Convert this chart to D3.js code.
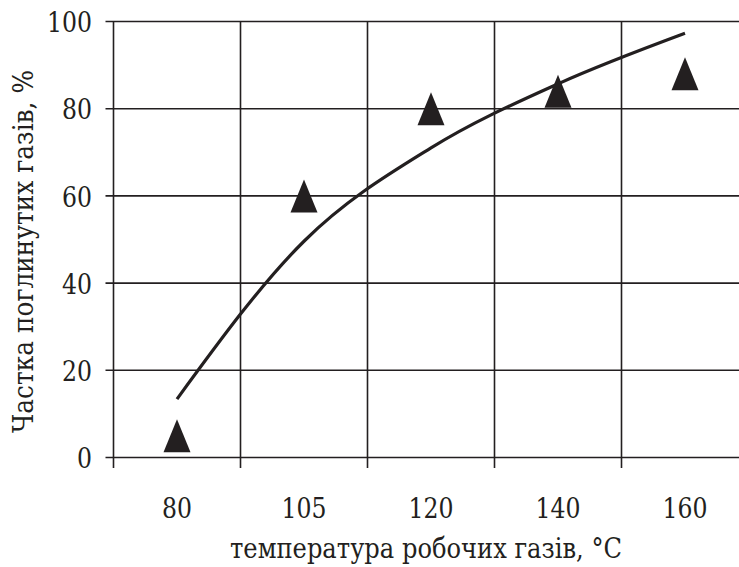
<!DOCTYPE html>
<html>
<head>
<meta charset="utf-8">
<script src="https://cdn.jsdelivr.net/npm/d3@7"></script>
<style>
  body { margin: 0; background: #fff; }
</style>
</head>
<body>
<div id="chart"></div>
<script>
// categories on the x axis (temperature, deg C)
var categories = ["80", "105", "120", "140", "160"];
// measured share of absorbed gases, %
var absorbed = [5, 60, 80, 84, 88];
// trend line values read at each category
var trend = [13.4, 49.6, 71.0, 85.7, 97.3];
var yTicks = [0, 20, 40, 60, 80, 100];

var width = 739, height = 567;
var margin = {top: 21.5, left: 113.5, bottom: 109.5};
var plotRight = 748.5; // plot area runs past the picture edge
var ink = "#231f20";
var serif = "'DejaVu Serif', serif";
var digitW = 15; // width of one digit in the labels

var svg = d3.select("#chart").append("svg")
    .attr("width", width)
    .attr("height", height)
    .attr("font-family", serif);

var x = d3.scaleBand()
    .domain(categories)
    .range([margin.left, plotRight]);
var y = d3.scaleLinear()
    .domain([0, 100])
    .range([height - margin.bottom, margin.top]);

// horizontal gridlines
svg.append("g")
  .selectAll("line")
  .data(yTicks)
  .enter().append("line")
    .attr("x1", margin.left - 8)
    .attr("x2", plotRight)
    .attr("y1", function(d) { return y(d); })
    .attr("y2", function(d) { return y(d); })
    .attr("stroke", ink)
    .attr("stroke-width", 1.6);

// vertical gridlines at the band edges
var edges = categories.map(function(c) { return x(c); }).concat([plotRight]);
svg.append("g")
  .selectAll("line")
  .data(edges)
  .enter().append("line")
    .attr("x1", function(d) { return d; })
    .attr("x2", function(d) { return d; })
    .attr("y1", y(100))
    .attr("y2", y(0) + 10.5)
    .attr("stroke", ink)
    .attr("stroke-width", 1.6);

// y tick labels
svg.append("g")
  .selectAll("text")
  .data(yTicks)
  .enter().append("text")
    .attr("x", 92)
    .attr("y", function(d) { return y(d); })
    .attr("dy", "0.38em")
    .attr("text-anchor", "end")
    .attr("font-size", 28)
    .attr("fill", ink)
    .attr("textLength", function(d) { return String(d).length * digitW; })
    .attr("lengthAdjust", "spacingAndGlyphs")
    .text(function(d) { return d; });

// x tick labels
svg.append("g")
  .selectAll("text")
  .data(categories)
  .enter().append("text")
    .attr("x", function(d) { return x(d) + x.bandwidth() / 2; })
    .attr("y", 518)
    .attr("text-anchor", "middle")
    .attr("font-size", 28)
    .attr("fill", ink)
    .attr("textLength", function(d) { return d.length * digitW; })
    .attr("lengthAdjust", "spacingAndGlyphs")
    .text(function(d) { return d; });

// trend line
var line = d3.line()
    .x(function(d, i) { return x(categories[i]) + x.bandwidth() / 2; })
    .y(function(d) { return y(d); })
    .curve(d3.curveMonotoneX);
svg.append("path")
    .datum(trend)
    .attr("d", line)
    .attr("fill", "none")
    .attr("stroke", ink)
    .attr("stroke-width", 3.2);

// triangle markers, 27 wide and 33 tall, centred on the value
var triW = 27, triH = 33;
var triPath = "M0," + (-triH / 2) + "L" + (triW / 2) + "," + (triH / 2) + "L" + (-triW / 2) + "," + (triH / 2) + "Z";
svg.append("g")
  .selectAll("path")
  .data(absorbed)
  .enter().append("path")
    .attr("d", triPath)
    .attr("transform", function(d, i) {
      return "translate(" + (x(categories[i]) + x.bandwidth() / 2) + "," + y(d) + ")";
    })
    .attr("fill", ink);

// axis titles
svg.append("text")
    .attr("x", 230)
    .attr("y", 558)
    .attr("font-size", 27)
    .attr("fill", ink)
    .attr("textLength", 392)
    .attr("lengthAdjust", "spacingAndGlyphs")
    .text("температура робочих газів, °C");

svg.append("text")
    .attr("transform", "translate(33,433) rotate(-90)")
    .attr("font-size", 28)
    .attr("fill", ink)
    .attr("textLength", 363)
    .attr("lengthAdjust", "spacingAndGlyphs")
    .text("Частка поглинутих газів, %");
</script>
</body>
</html>
